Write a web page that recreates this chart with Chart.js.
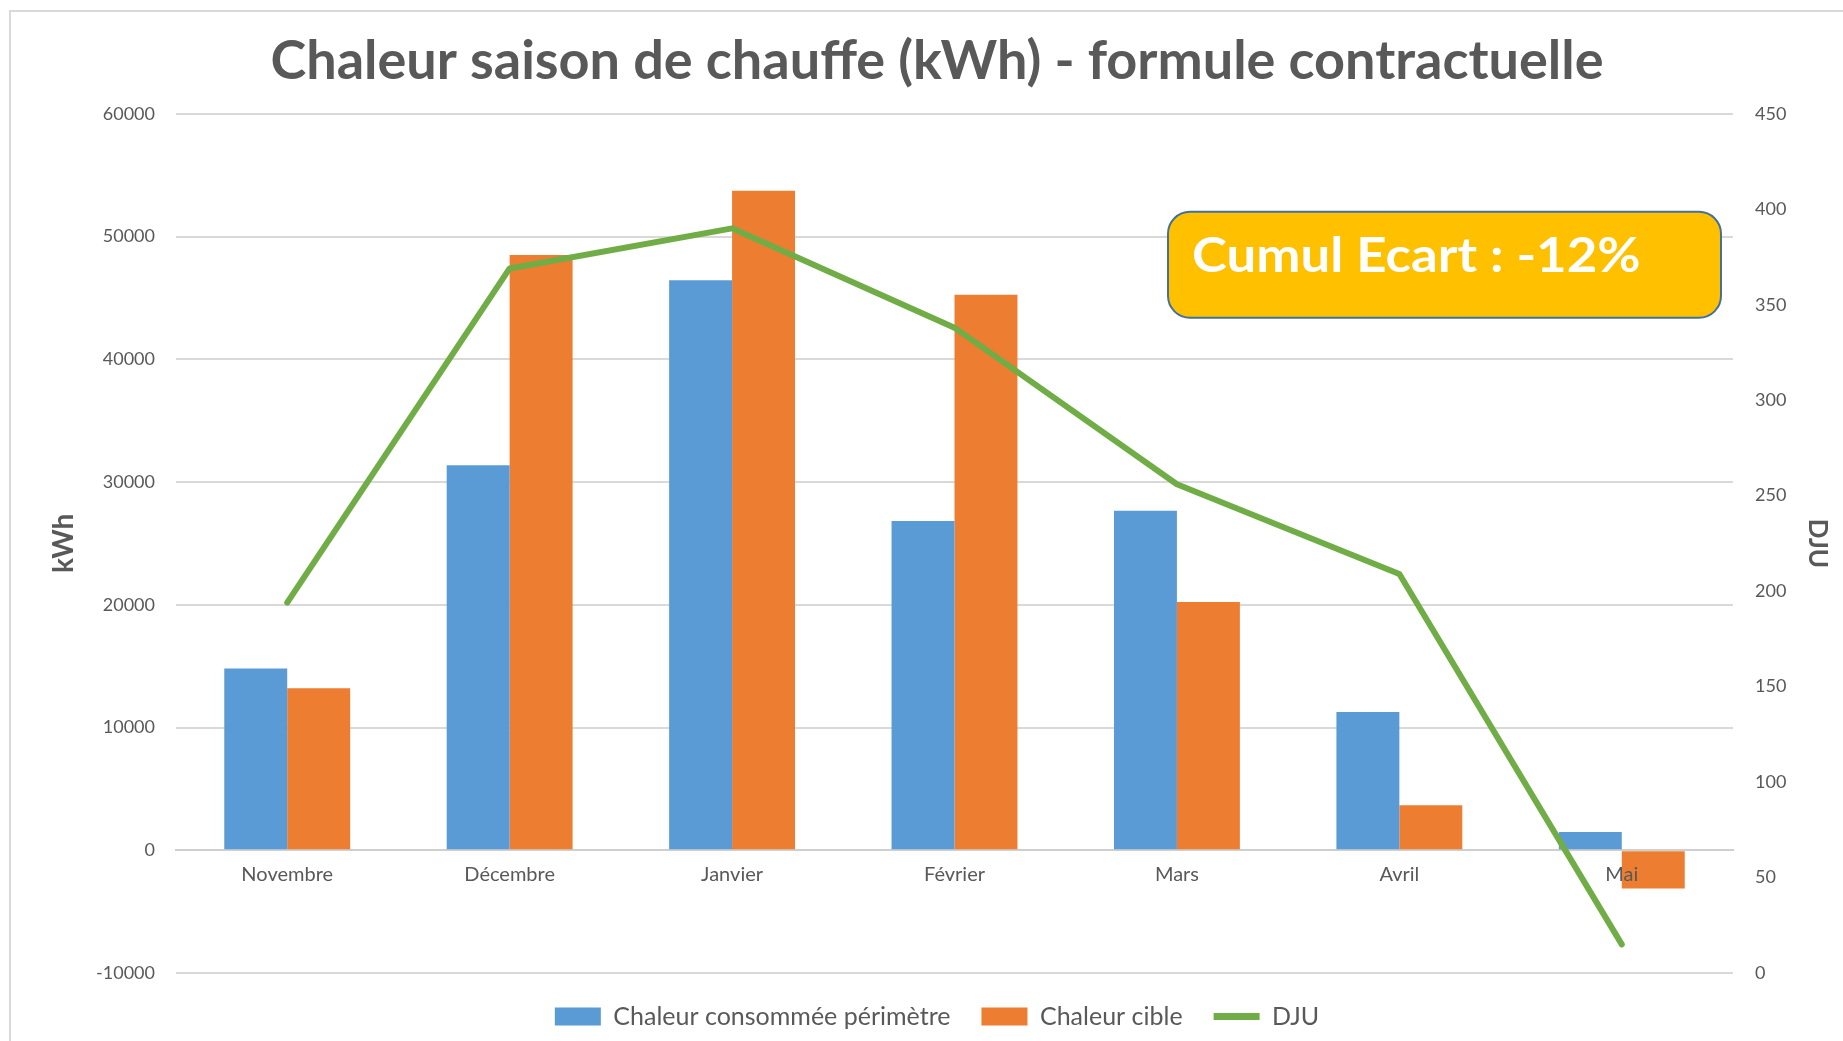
<!DOCTYPE html>
<html>
<head>
<meta charset="utf-8">
<script src="https://cdn.jsdelivr.net/npm/chart.js@4.4.1/dist/chart.umd.min.js"></script>
<style>
  html, body { margin: 0; padding: 0; background: #fff; overflow: hidden; }
  #wrap { width: 1843px; height: 1041px; position: relative; }
</style>
</head>
<body>
<div id="wrap"><canvas id="chart"></canvas></div>
<script>
// ─── Data ────────────────────────────────────────────────
const months      = ["Novembre", "Décembre", "Janvier", "Février", "Mars", "Avril", "Mai"];
const consommee   = [14800, 31360, 46430, 26820, 27650, 11260, 1480];
const cible       = [13190, 48500, 53730, 45260, 20230, 3670, -3120];
const dju         = [194, 369, 390, 338, 256, 209, 15];
const kwhTicks    = [-10000, 60000, 10000];   // min, max, step
const djuTicks    = [0, 450, 50];
const ecartLabel  = "Cumul Ecart : -12%";

// ─── Style ───────────────────────────────────────────────
const GREY  = "#595959";
const GRID  = "#d9d9d9";
const BLUE  = "#5B9BD5";
const ORNG  = "#ED7D31";
const GREEN = "#70AD47";

Chart.defaults.font.family = "Lato";
Chart.defaults.color = GREY;

// light frame round the picture (only top + left are visible in the source)
const frame = {
  id: "frame",
  beforeDraw(chart) {
    const ctx = chart.ctx;
    ctx.save();
    ctx.strokeStyle = GRID;
    ctx.lineWidth = 2;
    ctx.beginPath();
    ctx.moveTo(10, chart.height + 5);
    ctx.lineTo(10, 11);
    ctx.lineTo(chart.width + 5, 11);
    ctx.stroke();
    ctx.restore();
  }
};

// the yellow "Cumul Ecart" call-out
const cumulBox = {
  id: "cumulBox",
  afterDatasetsDraw(chart) {
    const { ctx, chartArea: a } = chart;
    const w = 553, h = 106;
    const x = a.right - 12 - w, y = a.top + 98;
    ctx.save();
    ctx.beginPath();
    ctx.roundRect(x, y, w, h, 22);
    ctx.fillStyle = "#FFC000";
    ctx.fill();
    ctx.lineWidth = 2;
    ctx.strokeStyle = "#41719C";
    ctx.stroke();
    // source text is a bit wider than Lato, stretch it a little
    ctx.translate(x + 24, y + 60);
    ctx.scale(1.1, 1);
    ctx.fillStyle = "#fff";
    ctx.font = "bold 48px Lato";
    ctx.textBaseline = "alphabetic";
    ctx.fillText(ecartLabel, 0, 0);
    ctx.restore();
  }
};

new Chart(document.getElementById("chart"), {
  data: {
    labels: months,
    datasets: [
      {
        type: "bar",
        label: "Chaleur consommée périmètre",
        data: consommee,
        backgroundColor: BLUE,
        borderWidth: 0,
        pointStyle: "rect",
        yAxisID: "y",
        order: 1,
        categoryPercentage: 0.566,
        barPercentage: 1
      },
      {
        type: "bar",
        label: "Chaleur cible",
        data: cible,
        backgroundColor: ORNG,
        borderWidth: 0,
        pointStyle: "rect",
        yAxisID: "y",
        order: 1,
        categoryPercentage: 0.566,
        barPercentage: 1
      },
      {
        type: "line",
        label: "DJU",
        data: dju,
        borderColor: GREEN,
        backgroundColor: GREEN,
        borderWidth: 6,
        borderJoinStyle: "round",
        borderCapStyle: "round",
        tension: 0,
        pointRadius: 0,
        pointHoverRadius: 0,
        pointStyle: "line",
        pointBorderColor: GREEN,
        pointBorderWidth: 7,
        yAxisID: "y1",
        order: 0
      }
    ]
  },
  options: {
    responsive: true,
    maintainAspectRatio: false,
    animation: false,
    layout: { padding: { left: 31, right: 0, top: 0, bottom: 2 } },
    plugins: {
      title: {
        display: true,
        text: "Chaleur saison de chauffe (kWh) - formule contractuelle",
        color: GREY,
        font: { size: 54, weight: "bold" },
        padding: { top: 29, bottom: 20 }
      },
      legend: {
        position: "bottom",
        labels: {
          color: GREY,
          font: { size: 25 },
          usePointStyle: true,
          pointStyleWidth: 46,
          boxHeight: 18,
          padding: 31,
          sort: (a, b) => a.datasetIndex - b.datasetIndex
        }
      },
      tooltip: { enabled: false }
    },
    scales: {
      x: {
        position: { y: 0 },
        grid: { display: false, drawTicks: false },
        border: { display: true, color: "#cfcfcf", width: 2 },
        // month names sit on top of the bars (see "Mai")
        ticks: { z: 1, color: GREY, font: { size: 20 }, padding: 12, maxRotation: 0 }
      },
      y: {
        position: "left",
        min: kwhTicks[0],
        max: kwhTicks[1],
        afterFit: s => { s.width = 145; },
        grid: { color: GRID, lineWidth: 2, drawTicks: false },
        border: { display: false },
        ticks: { stepSize: kwhTicks[2], color: GREY, font: { size: 18 }, padding: 21, callback: v => String(v) },
        title: { display: true, text: "kWh", color: GREY, font: { size: 28, weight: "bold" }, padding: { top: 16, bottom: 0 } }
      },
      y1: {
        position: "right",
        min: djuTicks[0],
        max: djuTicks[1],
        afterFit: s => { s.width = 110; },
        grid: { display: false, drawTicks: false },
        border: { display: false },
        ticks: { stepSize: djuTicks[2], color: GREY, font: { size: 18 }, padding: 22, callback: v => String(v) },
        title: { display: true, text: "DJU", color: GREY, font: { size: 26, weight: "bold" }, padding: { top: 10, bottom: 0 } }
      }
    }
  },
  plugins: [frame, cumulBox]
});
</script>
</body>
</html>
